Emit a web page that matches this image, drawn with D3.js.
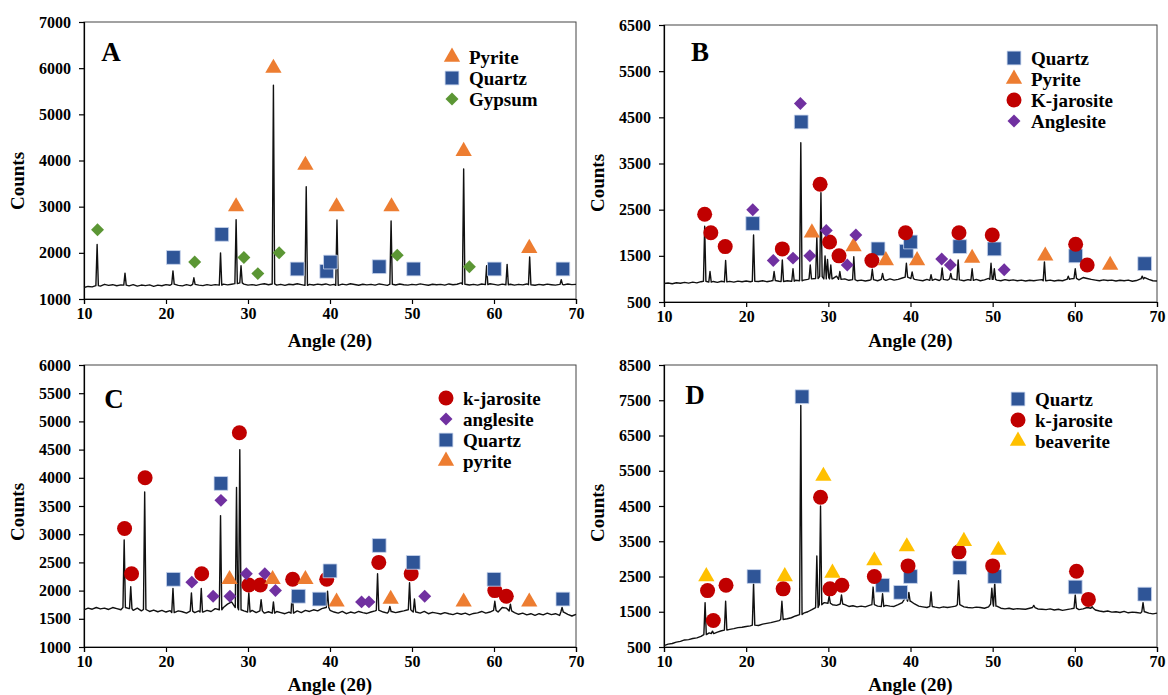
<!DOCTYPE html>
<html>
<head>
<meta charset="utf-8">
<script src="https://cdn.jsdelivr.net/npm/d3@7"></script>
<style>
  body { margin: 0; background: #fff; }
  svg { display: block; }
  text { font-family: "Liberation Serif", "Times New Roman", serif; font-weight: bold; fill: #000; }
</style>
</head>
<body>
<script>
// ---- shared axis values ----
const xTicks = [10, 20, 30, 40, 50, 60, 70];
const baseStart = 10, baseStep = 0.5;   // baseline samples every 0.5 deg from 10 to 70

// ---- Panel A ----
const aYTicks = [1000, 2000, 3000, 4000, 5000, 6000, 7000];
const aBase = [
  1250,1272,1262,1290,1280,1318,1296,1310,1288,1306,
  1300,1284,1312,1278,1302,1290,1306,1274,1300,1288,
  1312,1298,1322,1294,1284,1310,1290,1318,1300,1290,
  1312,1296,1312,1300,1322,1306,1320,1332,1350,1322,
  1300,1312,1296,1316,1330,1308,1326,1300,1318,1296,
  1320,1308,1330,1312,1296,1318,1304,1322,1310,1326,
  1300,1316,1296,1322,1306,1330,1314,1298,1320,1306,
  1318,1300,1326,1312,1296,1320,1304,1324,1310,1300,
  1318,1306,1328,1312,1298,1320,1308,1316,1300,1326,
  1310,1320,1350,1320,1304,1318,1300,1324,1312,1330,
  1316,1300,1322,1308,1320,1300,1318,1306,1326,1310,
  1298,1316,1304,1322,1310,1300,1318,1306,1324,1312,
  1316];
const aPeaks = [[11.6,2180],[15.0,1560],[20.85,1610],[23.4,1460],[26.65,2000],[28.55,2720],
  [29.15,1720],[33.1,5630],[37.1,3430],[40.85,2710],[47.45,2690],[56.3,3815],[59.1,1720],
  [61.6,1750],[64.35,1910],[68.2,1420]];
const aPyrite = [[28.55,3000],[33.1,6000],[37.0,3900],[40.8,3000],[47.5,3000],[56.3,4200],[64.3,2100]];
const aQuartz = [[20.9,1900],[26.8,2400],[36.0,1650],[39.6,1600],[40.05,1800],[46.0,1700],[50.2,1650],[60.05,1650],[68.4,1650]];
const aGypsum = [[11.65,2500],[23.5,1800],[29.5,1900],[31.2,1550],[33.8,2000],[48.2,1950],[57.0,1700]];

// ---- Panel B ----
const bYTicks = [500, 1500, 2500, 3500, 4500, 5500, 6500];
const bBase = [
  900,912,896,918,905,925,910,930,915,940,
  950,930,945,925,950,935,948,930,952,940,
  955,938,950,945,960,940,955,965,950,945,
  960,950,970,960,975,990,1000,1010,1050,1000,
  1030,1000,1060,990,1000,970,985,960,975,955,
  970,985,960,990,970,1000,975,990,1020,1040,
  1010,990,975,960,990,970,995,965,990,975,
  1000,985,980,960,985,970,990,960,980,1010,
  990,975,960,985,965,980,960,975,955,970,
  960,975,985,960,975,955,970,960,990,1000,
  1010,980,1030,1010,990,975,960,980,965,975,
  955,970,960,975,950,965,1000,1030,990,960,
  955];
const bPeaks = [[14.95,2140],[15.6,1160],[17.5,1400],[20.9,1950],[23.4,1160],[24.4,1410],[25.7,1220],
  [26.65,3950],[27.8,1300],[28.6,1910],[29.1,2870],[29.6,1500],[29.9,1420],[30.3,1300],[31.4,1160],
  [33.1,1480],[35.35,1210],[36.6,1120],[39.5,1340],[40.2,1150],[42.5,1090],[43.85,1240],[44.9,1120],
  [45.8,1410],[47.5,1220],[49.8,1340],[50.2,1220],[56.3,1370],[59.2,1060],[60.05,1220],[68.2,1060]];
const bQuartz = [[20.8,2200],[26.7,4400],[36.05,1650],[39.5,1600],[40.0,1800],[46.0,1700],[50.2,1650],[60.1,1500],[68.5,1330]];
const bPyrite = [[28.0,2000],[33.07,1700],[37.0,1400],[40.8,1400],[47.5,1450],[56.4,1500],[64.3,1300]];
const bJarosite = [[14.95,2400],[15.7,2000],[17.45,1700],[24.4,1650],[29.0,3050],[30.15,1800],[31.3,1500],
  [35.3,1400],[39.4,2000],[45.9,2000],[49.95,1950],[60.1,1750],[61.5,1300]];
const bAnglesite = [[20.8,2500],[26.6,4800],[23.3,1400],[25.7,1450],[27.75,1500],[29.75,2050],[32.3,1300],
  [33.35,1950],[43.8,1430],[44.85,1300],[51.4,1200]];

// ---- Panel C ----
const cYTicks = [1000, 1500, 2000, 2500, 3000, 3500, 4000, 4500, 5000, 5500, 6000];
const cBase = [
  1660,1690,1670,1700,1675,1690,1665,1700,1680,1660,
  1700,1680,1650,1690,1640,1665,1630,1655,1625,1650,
  1620,1645,1610,1640,1625,1600,1635,1610,1640,1620,
  1650,1630,1680,1660,1700,1760,1800,1700,1660,1640,
  1620,1650,1610,1640,1600,1625,1600,1630,1610,1590,
  1620,1600,1640,1610,1650,1630,1660,1640,1680,1700,
  1650,1620,1600,1630,1590,1620,1600,1630,1610,1595,
  1620,1640,1650,1620,1600,1630,1610,1625,1640,1660,
  1640,1620,1600,1630,1590,1615,1600,1585,1610,1590,
  1575,1600,1580,1600,1570,1595,1605,1630,1600,1620,
  1650,1620,1700,1690,1640,1610,1580,1600,1570,1590,
  1560,1590,1570,1600,1575,1590,1560,1620,1580,1550,
  1580];
const cPeaks = [[14.9,2900],[15.7,2070],[17.4,3750],[20.85,2040],[23.1,1960],[24.3,2040],[26.65,3330],
  [28.6,3830],[29.0,4500],[30.1,1960],[31.6,1840],[33.1,1800],[35.4,1990],[39.7,1990],[45.8,2300],
  [47.3,1720],[49.7,2140],[50.3,1850],[60.1,1810],[62.0,1760],[68.3,1700]];
const cJarosite = [[14.95,3100],[15.8,2300],[17.45,4000],[24.35,2300],[28.95,4800],[30.1,2100],[31.5,2100],
  [35.45,2200],[39.6,2200],[45.95,2500],[49.9,2300],[60.1,2000],[61.5,1900]];
const cAnglesite = [[23.15,2150],[25.75,1900],[26.7,3600],[27.8,1900],[29.8,2300],[32.05,2300],[33.35,2000],
  [43.85,1800],[44.75,1800],[51.55,1900]];
const cQuartz = [[20.9,2200],[26.7,3900],[36.15,1900],[38.7,1850],[40.0,2350],[46.0,2800],[50.15,2500],[60.0,2200],[68.4,1850]];
const cPyrite = [[27.75,2200],[33.0,2200],[37.0,2200],[40.8,1800],[47.4,1850],[56.3,1800],[64.3,1800]];

// ---- Panel D ----
const dYTicks = [500, 1500, 2500, 3500, 4500, 5500, 6500, 7500, 8500];
const dBase = [
  540,580,600,640,660,700,710,740,760,800,
  850,900,880,920,960,980,1000,1020,1050,1060,
  1080,1100,1120,1110,1150,1170,1190,1220,1250,1280,
  1300,1330,1380,1420,1460,1500,1560,1620,1700,1760,
  1740,1700,1680,1720,1700,1650,1670,1640,1660,1640,
  1680,1700,1660,1650,1680,1660,1650,1700,1760,1850,
  1800,1720,1660,1640,1620,1650,1630,1610,1640,1620,
  1640,1660,1700,1640,1620,1610,1630,1620,1600,1640,
  1720,1660,1600,1580,1600,1570,1590,1580,1570,1600,
  1620,1580,1570,1560,1580,1550,1570,1540,1560,1580,
  1600,1560,1580,1620,1600,1550,1520,1500,1520,1490,
  1500,1480,1510,1470,1490,1480,1460,1500,1460,1440,
  1460];
const dPeaks = [[15.0,1760],[15.9,950],[17.5,1800],[20.9,2300],[24.35,1800],[26.65,7350],[28.6,3080],
  [29.05,4500],[30.1,1950],[31.6,1980],[35.45,2200],[36.6,2010],[39.4,2150],[39.8,2050],[42.5,2060],
  [45.85,2380],[49.9,2170],[50.25,2320],[55.0,1680],[60.05,1980],[62.1,1640],[68.3,1760]];
const dQuartz = [[20.95,2500],[26.8,7600],[36.6,2250],[38.8,2050],[40.0,2500],[46.0,2750],[50.25,2500],[60.05,2200],[68.5,2000]];
const dJarosite = [[15.3,2100],[16.0,1250],[17.55,2250],[24.5,2150],[29.05,4750],[30.2,2150],[31.65,2250],
  [35.6,2500],[39.7,2800],[45.9,3200],[50.0,2800],[60.2,2650],[61.65,1850]];
const dBeaverite = [[15.15,2500],[24.7,2500],[29.4,5350],[30.5,2600],[35.6,2950],[39.55,3350],[46.5,3500],[50.7,3250]];

// ---- marker styles ----
const sty = {
  pyrite:    { shape: "tri",  fill: "#ED7D31" },
  quartz:    { shape: "sq",   fill: "#2F5597" },
  gypsum:    { shape: "dia",  fill: "#5B9634" },
  jarosite:  { shape: "circ", fill: "#C00000" },
  anglesite: { shape: "dia",  fill: "#7030A0" },
  beaverite: { shape: "tri",  fill: "#FFC000" }
};

const panels = [
  { letter: "A", left: 84, right: 576, top: 22, bottom: 299, yDom: [1000, 7000], yTicks: aYTicks,
    base: aBase, peaks: aPeaks, letterPos: [111, 61], countsY: 181, angleY: 347,
    legX: 452, legY: 57,
    series: [["Pyrite", sty.pyrite, aPyrite], ["Quartz", sty.quartz, aQuartz], ["Gypsum", sty.gypsum, aGypsum]] },
  { letter: "B", left: 664, right: 1157, top: 25, bottom: 302, yDom: [500, 6500], yTicks: bYTicks,
    base: bBase, peaks: bPeaks, letterPos: [700, 61], countsY: 183, angleY: 347,
    legX: 1014, legY: 58,
    series: [["Quartz", sty.quartz, bQuartz], ["Pyrite", sty.pyrite, bPyrite],
             ["K-jarosite", sty.jarosite, bJarosite], ["Anglesite", sty.anglesite, bAnglesite]] },
  { letter: "C", left: 84, right: 576, top: 365, bottom: 647, yDom: [1000, 6000], yTicks: cYTicks,
    base: cBase, peaks: cPeaks, letterPos: [114, 408], countsY: 512, angleY: 691,
    legX: 446, legY: 398,
    series: [["k-jarosite", sty.jarosite, cJarosite], ["anglesite", sty.anglesite, cAnglesite],
             ["Quartz", sty.quartz, cQuartz], ["pyrite", sty.pyrite, cPyrite]] },
  { letter: "D", left: 664, right: 1157, top: 365, bottom: 647, yDom: [500, 8500], yTicks: dYTicks,
    base: dBase, peaks: dPeaks, letterPos: [695, 404], countsY: 513, angleY: 691,
    legX: 1018, legY: 399,
    series: [["Quartz", sty.quartz, dQuartz], ["k-jarosite", sty.jarosite, dJarosite], ["beaverite", sty.beaverite, dBeaverite]] }
];

const svg = d3.select("body").append("svg").attr("width", 1168).attr("height", 695);

// merge baseline samples with peak spikes into one trace
function buildTrace(base, peaks, hw) {
  let pts = [];
  base.forEach(function(v, i) {
    let x = baseStart + i * baseStep;
    if (!peaks.some(p => Math.abs(x - p[0]) <= hw)) pts.push([x, v]);
  });
  peaks.forEach(function(p) {
    let foot = base[Math.round((p[0] - baseStart) / baseStep)];
    pts.push([p[0] - hw, foot], [p[0], p[1]], [p[0] + hw, foot]);
  });
  pts.sort((a, b) => a[0] - b[0]);
  return pts;
}

function drawMarker(g, st, cx, cy) {
  if (st.shape == "tri") {
    g.append("path").attr("d", d3.symbol(d3.symbolTriangle, 115)())
      .attr("transform", "translate(" + cx + "," + cy + ")").attr("fill", st.fill);
  } else if (st.shape == "sq") {
    g.append("path").attr("d", d3.symbol(d3.symbolSquare, 190)())
      .attr("transform", "translate(" + cx + "," + cy + ")").attr("fill", st.fill)
      .attr("stroke", "#c9d6ee").attr("stroke-width", 0.8);
  } else if (st.shape == "dia") {
    g.append("path").attr("d", d3.symbol(d3.symbolSquare, 84)())
      .attr("transform", "translate(" + cx + "," + cy + ") rotate(45)").attr("fill", st.fill);
  } else {
    g.append("circle").attr("cx", cx).attr("cy", cy).attr("r", 7.5).attr("fill", st.fill);
  }
}

panels.forEach(function(p) {
  let x = d3.scaleLinear().domain([10, 70]).range([p.left, p.right]);
  let y = d3.scaleLinear().domain(p.yDom).range([p.bottom, p.top]);
  let g = svg.append("g");

  // frame
  g.append("rect").attr("x", p.left).attr("y", p.top)
    .attr("width", p.right - p.left).attr("height", p.bottom - p.top)
    .attr("fill", "none").attr("stroke", "#444").attr("stroke-width", 1);

  let xAxis = g.append("g").attr("transform", "translate(0," + p.bottom + ")")
    .call(d3.axisBottom(x).tickValues(xTicks).tickSize(5).tickPadding(4));
  let yAxis = g.append("g").attr("transform", "translate(" + p.left + ",0)")
    .call(d3.axisLeft(y).tickValues(p.yTicks).tickSize(5).tickPadding(8).tickFormat(d3.format("d")));
  [xAxis, yAxis].forEach(function(a) {
    a.selectAll("path,line").attr("stroke", "#000").attr("stroke-width", 1.2);
    a.selectAll("text").style("font-size", "16px").style("font-family", "\"Liberation Serif\", serif")
      .style("font-weight", "bold").attr("fill", "#000");
  });

  // trace
  let trace = buildTrace(p.base, p.peaks, 0.15);
  g.append("path").datum(trace)
    .attr("d", d3.line().x(d => x(d[0])).y(d => y(d[1])))
    .attr("fill", "none").attr("stroke", "#111").attr("stroke-width", 1.4)
    .attr("stroke-linejoin", "round");

  // phase markers
  p.series.forEach(function(s) {
    s[2].forEach(d => drawMarker(g, s[1], x(d[0]), y(d[1])));
  });

  // legend
  p.series.forEach(function(s, i) {
    let ly = p.legY + i * 21;
    drawMarker(g, s[1], p.legX, ly);
    g.append("text").attr("x", p.legX + 17).attr("y", ly).attr("dy", "0.35em")
      .style("font-size", "19px").text(s[0]);
  });

  // panel letter
  g.append("text").attr("x", p.letterPos[0]).attr("y", p.letterPos[1])
    .attr("text-anchor", "middle").style("font-size", "27px").text(p.letter);

  // axis titles
  g.append("text").attr("x", (p.left + p.right) / 2).attr("y", p.angleY)
    .attr("text-anchor", "middle").style("font-size", "19px").text("Angle (2θ)");
  g.append("text").attr("transform", "translate(" + (p.left - 60) + "," + p.countsY + ") rotate(-90)")
    .attr("text-anchor", "middle").style("font-size", "19px").text("Counts");
});
</script>
</body>
</html>
